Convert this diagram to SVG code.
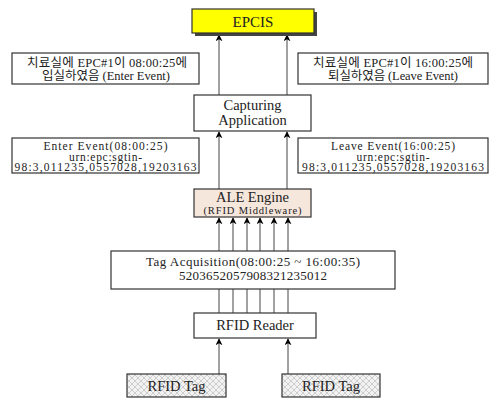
<svg xmlns="http://www.w3.org/2000/svg" width="493" height="398" viewBox="0 0 493 398">
<style>
.box{fill:#fff;stroke:#333;stroke-width:1.2}
.t{font-family:"Liberation Serif","Noto Sans CJK KR",serif;fill:#222;text-anchor:middle}
.s{font-size:12.5px}
.e{font-size:11.5px}
.c{stroke:#444;stroke-width:1;fill:none}
.a{marker-end:url(#ah)}
</style>
<defs>
<marker id="ah" viewBox="0 0 10 10" refX="9" refY="5" markerWidth="7" markerHeight="7" markerUnits="userSpaceOnUse" orient="auto">
<path d="M0,0 L10,5 L0,10 L3,5 Z" fill="#000"/>
</marker>
<pattern id="hatch" width="6" height="6" patternUnits="userSpaceOnUse">
<rect width="6" height="6" fill="#f2f2f2"/>
<path d="M0,0 L6,6 M6,0 L0,6" stroke="#c4c4c4" stroke-width="0.8"/>
</pattern>
</defs>
<g id="connectors">
<line class="c a" x1="219" y1="95" x2="219" y2="35"/>
<line class="c a" x1="287" y1="95" x2="287" y2="35"/>
<line class="c a" x1="219" y1="189" x2="219" y2="132"/>
<line class="c a" x1="287" y1="189" x2="287" y2="132"/>
<line class="c a" x1="219" y1="251" x2="219" y2="218"/>
<line class="c a" x1="233" y1="251" x2="233" y2="218"/>
<line class="c a" x1="247" y1="251" x2="247" y2="218"/>
<line class="c a" x1="260" y1="251" x2="260" y2="218"/>
<line class="c a" x1="274" y1="251" x2="274" y2="218"/>
<line class="c a" x1="288" y1="251" x2="288" y2="218"/>
<line class="c" x1="219" y1="289" x2="219" y2="313"/>
<line class="c" x1="233" y1="289" x2="233" y2="313"/>
<line class="c" x1="247" y1="289" x2="247" y2="313"/>
<line class="c" x1="260" y1="289" x2="260" y2="313"/>
<line class="c" x1="274" y1="289" x2="274" y2="313"/>
<line class="c" x1="288" y1="289" x2="288" y2="313"/>
<line class="c a" x1="219" y1="374" x2="219" y2="339"/>
<line class="c a" x1="288" y1="374" x2="288" y2="339"/>
</g>
<g id="epcis">
<rect x="195" y="12" width="122" height="24" fill="#444"/>
<rect x="192" y="9" width="122" height="24" fill="#ffff00" stroke="#333" stroke-width="1.2"/>
<text class="t" x="253" y="26.5" font-size="15">EPCIS</text>
</g>
<g id="enter-note">
<rect class="box" x="12" y="53" width="187" height="31"/>
<text class="t s" x="107" y="67" textLength="160" lengthAdjust="spacing">치료실에 EPC#1이 08:00:25에</text>
<text class="t s" x="106" y="79.5" textLength="128" lengthAdjust="spacing">입실하였음 (Enter Event)</text>
</g>
<g id="leave-note">
<rect class="box" x="298" y="53" width="190" height="31"/>
<text class="t s" x="393" y="67" textLength="160" lengthAdjust="spacing">치료실에 EPC#1이 16:00:25에</text>
<text class="t s" x="393" y="79.5" textLength="130" lengthAdjust="spacing">퇴실하였음 (Leave Event)</text>
</g>
<g id="capturing">
<rect class="box" x="194" y="95" width="117" height="36"/>
<text class="t" x="252.5" y="110" font-size="14.5">Capturing</text>
<text class="t" x="252.5" y="125" font-size="14.5">Application</text>
</g>
<g id="enter-event">
<rect class="box" x="12" y="138" width="187" height="35"/>
<text class="t e" x="105.5" y="150" textLength="124" lengthAdjust="spacing">Enter Event(08:00:25)</text>
<text class="t e" x="105.5" y="160.5" textLength="73" lengthAdjust="spacing">urn:epc:sgtin-</text>
<text class="t e" x="105.5" y="171" textLength="182" lengthAdjust="spacing">98:3,011235,0557028,19203163</text>
</g>
<g id="leave-event">
<rect class="box" x="298" y="138" width="190" height="35"/>
<text class="t e" x="393" y="150" textLength="124" lengthAdjust="spacing">Leave Event(16:00:25)</text>
<text class="t e" x="393" y="160.5" textLength="73" lengthAdjust="spacing">urn:epc:sgtin-</text>
<text class="t e" x="393" y="171" textLength="182" lengthAdjust="spacing">98:3,011235,0557028,19203163</text>
</g>
<g id="ale">
<rect x="194" y="189" width="117" height="28" fill="#f6e7dd" stroke="#333" stroke-width="1.2"/>
<text class="t" x="252.5" y="202" font-size="14.5">ALE Engine</text>
<text class="t" x="252.5" y="214" font-size="10.5" textLength="98" lengthAdjust="spacing">(RFID Middleware)</text>
</g>
<g id="tag-acquisition">
<rect class="box" x="111" y="251" width="284" height="38"/>
<text class="t" x="253" y="266" font-size="13" textLength="214" lengthAdjust="spacing">Tag Acquisition(08:00:25 ~ 16:00:35)</text>
<text class="t" x="253" y="280" font-size="13" textLength="148" lengthAdjust="spacing">5203652057908321235012</text>
</g>
<g id="reader">
<rect class="box" x="194" y="313" width="122" height="25"/>
<text class="t" x="255" y="330" font-size="14.5">RFID Reader</text>
</g>
<g id="tag1">
<rect x="127" y="374" width="99" height="23" fill="url(#hatch)" stroke="#333" stroke-width="1.2"/>
<text class="t" x="176.5" y="390.5" font-size="14.5">RFID Tag</text>
</g>
<g id="tag2">
<rect x="282" y="374" width="98" height="23" fill="url(#hatch)" stroke="#333" stroke-width="1.2"/>
<text class="t" x="331" y="390.5" font-size="14.5">RFID Tag</text>
</g>
</svg>
